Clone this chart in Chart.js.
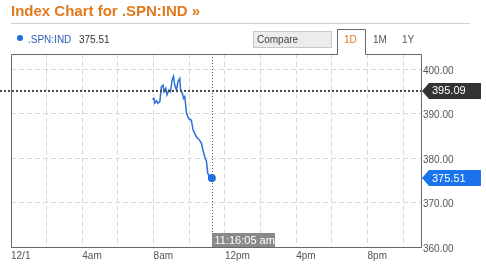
<!DOCTYPE html>
<html>
<head>
<meta charset="utf-8">
<script src="https://cdn.jsdelivr.net/npm/chart.js@4"></script>
<style>
    body { margin: 0; background: #fff; font-family: Arial, "Liberation Sans", sans-serif; }
    #wrap { position: relative; width: 486px; height: 267px; overflow: hidden; }
    #chart { position: absolute; left: 0; top: 0; }
    .abs { position: absolute; white-space: nowrap; }
    #title { left: 11px; top: 2px; font-size: 15px; font-weight: bold; color: #e07a1f; }
    #rule { left: 11px; top: 23px; width: 459px; height: 1px; background: #d0d0d0; }
    #dot { left: 17px; top: 35px; width: 6px; height: 6px; border-radius: 50%; background: #1a6fe0; }
    #legName { left: 28px; top: 34px; font-size: 10px; color: #2a5fb0; }
    #legVal { left: 79px; top: 34px; font-size: 10px; color: #333; }
    #compare { left: 253px; top: 31px; width: 74px; height: 15px; background: #ececec; border: 1px solid #c8c8c8;
               font-size: 10px; color: #444; line-height: 15px; padding-left: 3px; box-sizing: content-box; }
    .tab { top: 34px; font-size: 10px; color: #555; }
</style>
</head>
<body>
<div id="wrap">
    <canvas id="chart" width="486" height="267"></canvas>
    <div class="abs" id="title">Index Chart for .SPN:IND &raquo;</div>
    <div class="abs" id="rule"></div>
    <div class="abs" id="dot"></div>
    <div class="abs" id="legName">.SPN:IND</div>
    <div class="abs" id="legVal">375.51</div>
    <div class="abs" id="compare">Compare</div>
    <div class="abs tab" style="left:344px;color:#e07a1f">1D</div>
    <div class="abs tab" style="left:373px">1M</div>
    <div class="abs tab" style="left:402px">1Y</div>
</div>
<script>
// intraday prices
const times = ['7:56', '8:01', '8:04', '8:10', '8:14', '8:21', '8:26', '8:32', '8:35', '8:41',
    '8:45', '8:52', '8:57', '9:02', '9:07', '9:11', '9:17', '9:22', '9:28', '9:31',
    '9:37', '9:41', '9:45', '9:51', '9:58', '10:07', '10:13', '10:18', '10:24', '10:29',
    '10:35', '10:41', '10:46', '10:52', '10:58', '11:02', '11:09', '11:16'];
const values = [393.2, 393.4, 392.4, 392.9, 392.3, 392.7, 396.0, 396.4, 394.9, 395.7,
    394.2, 395.3, 394.9, 397.5, 398.4, 396.4, 395.3, 397.2, 397.9, 395.3,
    394.5, 393.4, 393.8, 390.0, 388.9, 388.5, 386.3, 385.6, 384.8, 384.4,
    384.0, 383.3, 381.8, 380.3, 379.2, 376.6, 375.7, 375.51];

const xTickHours = [0, 2, 4, 6, 8, 10, 12, 14, 16, 18, 20, 22];
const xTickLabels = ['12/1', '', '4am', '', '8am', '', '12pm', '', '4pm', '', '8pm', ''];
const yTicks = [360, 370, 380, 390, 400];

const prevClose = 395.09;
const lastValue = 375.51;
const lastTimeHours = 11 + 16 / 60 + 5 / 3600;
const lastTimeLabel = '11:16:05 am';

function toHours(t) {
    const [h, m] = t.split(':').map(Number);
    return h + m / 60;
}

const points = times.map((t, i) => ({ x: toHours(t), y: values[i] }));

function tag(ctx, y, text, color) {
    ctx.save();
    ctx.fillStyle = color;
    ctx.beginPath();
    ctx.moveTo(422, y);
    ctx.lineTo(429, y - 8);
    ctx.lineTo(481, y - 8);
    ctx.lineTo(481, y + 8);
    ctx.lineTo(429, y + 8);
    ctx.closePath();
    ctx.fill();
    ctx.fillStyle = '#fff';
    ctx.font = '11px Arial, "Liberation Sans", sans-serif';
    ctx.textBaseline = 'middle';
    ctx.fillText(text, 432, y + 0.5);
    ctx.restore();
}

const framePlugin = {
    id: 'frame',
    afterDatasetsDraw(chart) {
        const { ctx, chartArea: a, scales } = chart;
        const xs = scales.x, ys = scales.y;
        ctx.save();

        // previous close, dotted
        const yPrev = ys.getPixelForValue(prevClose);
        ctx.strokeStyle = '#444';
        ctx.lineWidth = 2;
        ctx.setLineDash([2, 2]);
        ctx.beginPath();
        ctx.moveTo(0, yPrev);
        ctx.lineTo(a.right, yPrev);
        ctx.stroke();

        // cursor line
        const xNow = Math.round(xs.getPixelForValue(lastTimeHours)) + 0.5;
        ctx.lineWidth = 1;
        ctx.setLineDash([1, 2]);
        ctx.strokeStyle = '#555';
        ctx.beginPath();
        ctx.moveTo(xNow, a.top);
        ctx.lineTo(xNow, a.bottom - 14);
        ctx.stroke();
        ctx.setLineDash([]);

        // frame with the 1D tab
        ctx.strokeStyle = '#666';
        ctx.beginPath();
        ctx.moveTo(a.left + 0.5, a.bottom + 0.5);
        ctx.lineTo(a.left + 0.5, a.top + 0.5);
        ctx.lineTo(337.5, a.top + 0.5);
        ctx.lineTo(337.5, 29.5);
        ctx.lineTo(365.5, 29.5);
        ctx.lineTo(365.5, a.top + 0.5);
        ctx.lineTo(a.right + 0.5, a.top + 0.5);
        ctx.lineTo(a.right + 0.5, a.bottom + 0.5);
        ctx.closePath();
        ctx.stroke();

        // time box
        ctx.fillStyle = '#8a8a8a';
        ctx.fillRect(xNow - 0.5, a.bottom - 14, 63, 14);
        ctx.fillStyle = '#fff';
        ctx.font = '11px Arial, "Liberation Sans", sans-serif';
        ctx.textBaseline = 'middle';
        ctx.fillText(lastTimeLabel, xNow + 2, a.bottom - 6.5);

        ctx.restore();

        tag(ctx, yPrev, prevClose.toFixed(2), '#333');
        tag(ctx, ys.getPixelForValue(lastValue), lastValue.toFixed(2), '#1c74ec');
    }
};

new Chart(document.getElementById('chart'), {
    type: 'line',
    data: {
        datasets: [{
            data: points,
            borderColor: '#2d6fd8',
            borderWidth: 1.5,
            tension: 0,
            pointRadius: c => c.dataIndex === values.length - 1 ? 4 : 0,
            pointBackgroundColor: '#1c6fe6',
            pointBorderWidth: 0
        }]
    },
    options: {
        responsive: false,
        animation: false,
        events: [],
        layout: { padding: { left: 11, top: 54, right: 0, bottom: 0 } },
        plugins: { legend: { display: false }, tooltip: { enabled: false } },
        scales: {
            x: {
                type: 'linear',
                min: 0,
                max: 23,
                afterBuildTicks: s => { s.ticks = xTickHours.map(v => ({ value: v })); },
                afterFit: s => { s.height = 20; },
                grid: { color: '#d9d9d9', drawTicks: false },
                border: { display: false, dash: [5, 3] },
                ticks: {
                    autoSkip: false,
                    maxRotation: 0,
                    align: 'start',
                    padding: 3,
                    color: '#555',
                    font: { family: 'Arial, "Liberation Sans", sans-serif', size: 10 },
                    callback: (v, i) => xTickLabels[i]
                }
            },
            y: {
                position: 'right',
                min: 360,
                max: 403.4,
                afterBuildTicks: s => { s.ticks = yTicks.map(v => ({ value: v })); },
                afterFit: s => { s.width = 65; },
                grid: { color: '#d9d9d9', drawTicks: false },
                border: { display: false, dash: [5, 3] },
                ticks: {
                    padding: 2,
                    labelOffset: 2,
                    color: '#555',
                    font: { family: 'Arial, "Liberation Sans", sans-serif', size: 10 },
                    callback: v => v.toFixed(2)
                }
            }
        }
    },
    plugins: [framePlugin]
});
</script>
</body>
</html>
